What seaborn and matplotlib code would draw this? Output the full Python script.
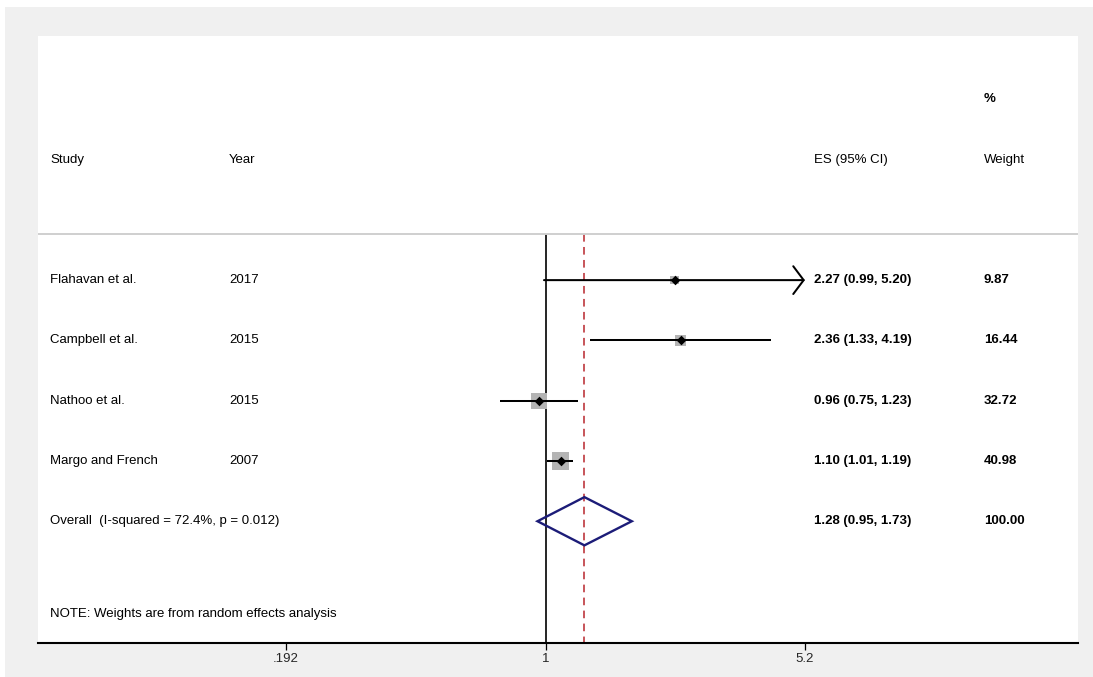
import numpy as np
import pandas as pd
import matplotlib
matplotlib.use("Agg")
import matplotlib.pyplot as plt
from matplotlib.patches import Rectangle
import seaborn as sns

# Study-level estimates (ES with 95% CI) and random-effects weights
studies = ["Flahavan et al.", "Campbell et al.", "Nathoo et al.", "Margo and French"]
years = ["2017", "2015", "2015", "2007"]
es = [2.27, 2.36, 0.96, 1.10]
ci_low = [0.99, 1.33, 0.75, 1.01]
ci_high = [5.20, 4.19, 1.23, 1.19]
weights = [9.87, 16.44, 32.72, 40.98]

# Pooled estimate
overall_es = 1.28
overall_low = 0.95
overall_high = 1.73
overall_weight = 100.00
overall_label = "Overall  (I-squared = 72.4%, p = 0.012)"
note_text = "NOTE: Weights are from random effects analysis"

# Axis ticks
xticks = [0.192, 1, 5.2]
xticklabels = [".192", "1", "5.2"]

sns.set_theme(style="white")
plt.rcParams["font.family"] = ["Liberation Sans", "DejaVu Sans"]

W, H = 1093, 677
fig = plt.figure(figsize=(W / 100, H / 100), dpi=100)
fig.patch.set_facecolor("white")
fig.add_artist(Rectangle((5 / W, 0), 1, (H - 7) / H, transform=fig.transFigure,
                         facecolor="#f0f0f0", edgecolor="none", zorder=-10))

ax = fig.add_axes([38 / W, 1 - 643 / H, (1078 - 38) / W, (643 - 36) / H])
ax.set_facecolor("white")
ax.set_xscale("log")
ax.set_xlim(0.0397, 29.5)
ax.set_ylim(6.02, -4.05)

rows = np.arange(len(studies))
df = pd.DataFrame({"study": studies, "year": years, "es": es, "lo": ci_low,
                   "hi": ci_high, "weight": weights, "row": rows})
overall_row = len(studies)
header_row = -2
pct_row = -3
sep_row = -0.77
note_row = 5.54
fs = 9.5
line_w = 1.45

# Reference lines: no effect and pooled estimate
ax.vlines(1, sep_row, 6.02, color="black", lw=1.2, zorder=1)
ax.vlines(overall_es, sep_row, 6.02, color="#b8262c", lw=1.1,
          linestyles=(0, (5, 3.5)), zorder=1)
ax.axhline(sep_row, color="#cfcfcf", lw=1.4, zorder=1)

# Weight boxes (area proportional to weight)
k = 3.9
sns.scatterplot(data=df, x="es", y="row", size="weight",
                sizes=(k * min(weights), k * max(weights)),
                marker="s", color="#b4b4b4", edgecolor="none", linewidth=0,
                legend=False, ax=ax, zorder=2)

# Confidence intervals, with an arrow where the interval reaches the axis limit
clip = max(xticks)
for _, r in df.iterrows():
    if r["hi"] >= clip:
        ax.annotate("", xy=(clip, r["row"]), xytext=(r["lo"], r["row"]),
                    arrowprops=dict(arrowstyle="->,head_length=0.75,head_width=1.0",
                                    lw=line_w, color="black", shrinkA=0, shrinkB=0,
                                    mutation_scale=10),
                    zorder=3)
    else:
        ax.hlines(r["row"], r["lo"], r["hi"], color="black", lw=line_w, zorder=3)

# Point estimates
sns.scatterplot(data=df, x="es", y="row", marker="D", s=24, color="black",
                edgecolor="black", linewidth=0, legend=False, ax=ax, zorder=4)

# Pooled diamond
ax.fill([overall_low, overall_es, overall_high, overall_es, overall_low],
        [overall_row, overall_row - 0.4, overall_row, overall_row + 0.4, overall_row],
        facecolor="none", edgecolor="#1c1c78", lw=1.7, joinstyle="miter", zorder=5)

# Text columns
tr = ax.get_yaxis_transform()
x_study = (50 - 38) / 1040
x_year = (229 - 38) / 1040
x_es = (814 - 38) / 1040
x_wt = (984 - 38) / 1040
txt = dict(transform=tr, fontsize=fs, va="center", ha="left", color="black")
val = dict(txt, fontweight="bold")

ax.text(x_wt, pct_row, "%", **val)
ax.text(x_study, header_row, "Study", **txt)
ax.text(x_year, header_row, "Year", **txt)
ax.text(x_es, header_row, "ES (95% CI)", **txt)
ax.text(x_wt, header_row, "Weight", **txt)

for _, r in df.iterrows():
    ax.text(x_study, r["row"], r["study"], **txt)
    ax.text(x_year, r["row"], r["year"], **txt)
    ax.text(x_es, r["row"], f"{r['es']:.2f} ({r['lo']:.2f}, {r['hi']:.2f})", **val)
    ax.text(x_wt, r["row"], f"{r['weight']:.2f}", **val)

ax.text(x_study, overall_row, overall_label, **txt)
ax.text(x_es, overall_row,
        f"{overall_es:.2f} ({overall_low:.2f}, {overall_high:.2f})", **val)
ax.text(x_wt, overall_row, f"{overall_weight:.2f}", **val)
ax.text(x_study, note_row, note_text, **txt)

# Axis styling
for side in ["left", "top", "right"]:
    ax.spines[side].set_visible(False)
ax.spines["bottom"].set_color("black")
ax.spines["bottom"].set_linewidth(1.5)
ax.set_yticks([])
ax.set_xticks(xticks)
ax.set_xticklabels(xticklabels, fontsize=fs)
ax.xaxis.set_minor_locator(matplotlib.ticker.NullLocator())
ax.tick_params(axis="x", direction="out", length=5, width=0.9, color="black",
               pad=2, bottom=True)
ax.set_xlabel("")
ax.set_ylabel("")

fig.savefig("out.png", dpi=100)
